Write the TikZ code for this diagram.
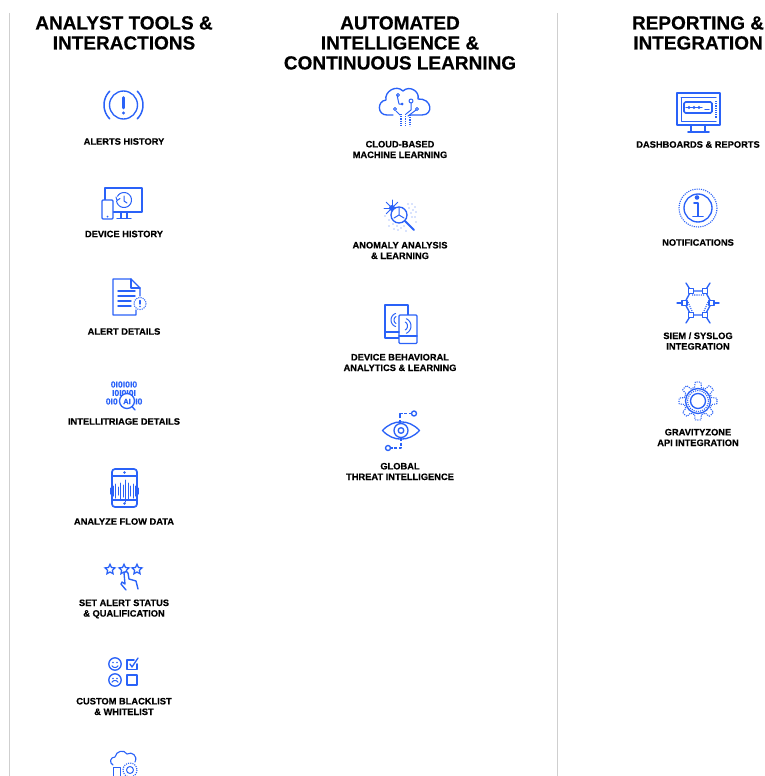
\documentclass[tikz,border=0pt]{standalone}
\usepackage{fontspec}
\setmainfont[BoldFeatures={FakeBold=0.4}]{Liberation Sans}
\usetikzlibrary{shapes.geometric}
\definecolor{iconblue}{HTML}{2A62F8}
\definecolor{rulegrey}{HTML}{CFCFCF}
\tikzset{
  icon/.style={draw=iconblue,line width=1.35pt,line cap=round,line join=round},
  thin icon/.style={draw=iconblue,line width=1pt,line cap=round,line join=round},
  dotted icon/.style={draw=iconblue,line width=1.1pt,dash pattern=on 1.1pt off 1.1pt},
  fill icon/.style={fill=iconblue,draw=none},
  heading/.style={font=\bfseries\fontsize{19}{20}\selectfont,align=center,inner sep=0pt,anchor=north,text=black},
  caption/.style={font=\bfseries\fontsize{9.3}{10.6}\selectfont,align=center,inner sep=0pt,anchor=center,text=black},
  bits/.style={font=\bfseries\fontsize{8.6}{8.6}\selectfont,text=iconblue,inner sep=0pt},
  starmark/.style={star,star points=5,star point ratio=2.1,draw=iconblue,line width=1.25pt,inner sep=0pt,minimum size=10.5pt},
  column rule/.style={draw=rulegrey,line width=0.8pt}
}
\begin{document}
\begin{tikzpicture}[x=1pt,y=-1pt]
\useasboundingbox (0,0) rectangle (765,776);
\clip (0,0) rectangle (765,776);
\fill[white] (0,0) rectangle (765,776);
% column rules
\coordinate (r1a) at (9,13); \coordinate (r1b) at (9,776);
\coordinate (r2a) at (557,13); \coordinate (r2b) at (557,776);
\draw[column rule] (r1a) -- (r1b);
\draw[column rule] (r2a) -- (r2b);
% headings
\node[heading] (h1) at (124,16) {ANALYST TOOLS \&\\INTERACTIONS};
\node[heading] (h2) at (400,16) {AUTOMATED\\INTELLIGENCE \&\\CONTINUOUS LEARNING};
\node[heading] (h3) at (698,16) {REPORTING \&\\INTEGRATION};
% captions
\node[caption] (c1) at (124,141.5) {ALERTS HISTORY};
\node[caption] (c2) at (124,234) {DEVICE HISTORY};
\node[caption] (c3) at (124,331.5) {ALERT DETAILS};
\node[caption] (c4) at (124,421.5) {INTELLITRIAGE DETAILS};
\node[caption] (c5) at (124,521.5) {ANALYZE FLOW DATA};
\node[caption] (c6) at (124,609) {SET ALERT STATUS\\\& QUALIFICATION};
\node[caption] (c7) at (124,706.5) {CUSTOM BLACKLIST\\\& WHITELIST};
\node[caption] (c8) at (400,149.5) {CLOUD-BASED\\MACHINE LEARNING};
\node[caption] (c9) at (400,250.5) {ANOMALY ANALYSIS\\\& LEARNING};
\node[caption] (c10) at (400,362.5) {DEVICE BEHAVIORAL\\ANALYTICS \& LEARNING};
\node[caption] (c11) at (400,471.5) {GLOBAL\\THREAT INTELLIGENCE};
\node[caption] (c12) at (698,144.5) {DASHBOARDS \& REPORTS};
\node[caption] (c13) at (698,242.5) {NOTIFICATIONS};
\node[caption] (c14) at (698,341) {SIEM / SYSLOG\\INTEGRATION};
\node[caption] (c15) at (698,437.5) {GRAVITYZONE\\API INTEGRATION};
% --- alerts history
\begin{scope}[shift={(123.5,105)}]
\draw[icon] (0,0) circle (14);
\draw[icon,line width=1.5pt] plot[domain=-45:45,samples=20] ({19.5*cos(\x)},{19.5*sin(\x)});
\draw[icon,line width=1.5pt] plot[domain=135:225,samples=20] ({19.5*cos(\x)},{19.5*sin(\x)});
\draw[icon,line width=2.6pt] (0,-7.5) -- (0,3);
\fill[iconblue] (0,8) circle (1.7);
\end{scope}
% --- device history
\draw[icon] (105,200) -- (105,188) -- (142,188) -- (142,212) -- (113,212);
\draw[icon,fill=white,rounded corners=1pt] (102,200) rectangle (113,219);
\draw[icon] (121,212) -- (121,218) (127,212) -- (127,218) (117,218.5) -- (131,218.5);
\fill[iconblue] (107.5,216.5) circle (1);
\draw[thin icon] plot[domain=-150:170,samples=24] ({124+7.5*cos(\x)},{200+7.5*sin(\x)});
\draw[thin icon] (124,196) -- (124,201) -- (127,203);
\draw[thin icon] (116,197) -- (117,200.5) -- (120,198.5);
% --- alert details
\draw[icon] (136,310) -- (136,315) -- (113,315) -- (113,279) -- (131,279) -- (140,288) -- (140,296);
\draw[icon] (131,279) -- (131,288) -- (140,288);
\draw[icon] (118,291) -- (135,291) (118,296) -- (135,296) (118,301) -- (131,301) (118,306) -- (131,306);
\draw[dotted icon] (140,303.5) circle (6);
\draw[icon] (140,300.5) -- (140,304);
\fill[iconblue] (140,306.5) circle (0.9);
% --- intellitriage
\node[bits] (b1) at (124,384.5) {0I0I0I0};
\node[bits] (b2) at (124,393) {I0I0I0I};
\node[bits,anchor=east] (b3) at (118,401.5) {0I0};
\node[bits,anchor=west] (b4) at (135,401.5) {I0};
\draw[icon,fill=white] (127,401) circle (7.5);
\draw[icon] (132,406.5) -- (135,410);
\node[bits,font=\bfseries\fontsize{7.5}{8}\selectfont] (b5) at (127,401.5) {AI};
% --- analyze flow
\draw[icon,line width=1.7pt,rounded corners=3pt] (112,469) rectangle (137,507);
\draw[icon] (112,476) -- (137,476) (112,500) -- (137,500);
\fill[iconblue] (124.5,472.5) circle (1.3) (124.5,503.5) circle (1.3);
\foreach \px/\ph in {110.5/3,113/5,115.5/7,118/4,120.5/8,123/6,125.5/11,128/8,130.5/5,133/7,135.5/5,138/3}{
  \draw[thin icon] (\px,491-\ph) -- (\px,491+\ph);
}
% --- set alert status
\node[starmark] (s1) at (110,569.5) {};
\node[starmark] (s2) at (124,569.5) {};
\node[starmark] (s3) at (137,569.5) {};
\draw[icon,fill=white] (126,590) -- (121,584) -- (122,582) -- (125,584) -- (124,573) .. controls (125,570.5) and (127,571) .. (128,573) -- (129,579) -- (136,581) -- (138,589);
% --- custom lists
\draw[icon] (115,664) circle (6.2);
\fill[iconblue] (113,662.5) circle (0.9) (117,662.5) circle (0.9);
\draw[thin icon] plot[domain=30:150,samples=10] ({115+3.5*cos(\x)},{664+3.5*sin(\x)});
\draw[icon] (115,680) circle (6.2);
\fill[iconblue] (113,678.5) circle (0.9) (117,678.5) circle (0.9);
\draw[thin icon] plot[domain=210:330,samples=10] ({115+3.5*cos(\x)},{684+3.5*sin(\x)});
\draw[icon,line width=1.6pt] (137,664) -- (137,669.5) -- (127,669.5) -- (127,660) -- (134,660);
\draw[icon] (130,664) -- (132,667) -- (138,658);
\draw[icon,line width=1.6pt] (127,675) rectangle (137,685);
% --- bottom cloud
\draw[icon,line width=1.1pt] (113,765) .. controls (109,763) and (110,757) .. (115,757) .. controls (116,751) and (124,749) .. (127,754) .. controls (132,751) and (138,756) .. (135,762);
\draw[thin icon] (113,767) rectangle (120,776);
\draw[dotted icon] (130,770) circle (7);
\draw[thin icon] (130,770) circle (3.5);
% --- cloud ML
\draw[icon] (393,115) -- (387,115) .. controls (377,115) and (377,101) .. (386,100) .. controls (384,92) and (396,84) .. (403,91) .. controls (409,85) and (420,91) .. (418,99) .. controls (432,98) and (434,115) .. (422,115) -- (410,115);
\draw[thin icon] (397,95) -- (399,104) -- (402,104);
\draw[thin icon] (398,95) circle (1.5);
\fill[iconblue] (402,104) circle (1.5);
\draw[thin icon] (411,101) circle (2);
\draw[thin icon] (411,103) -- (411,110) -- (406,114);
\draw[thin icon] (395,109) circle (1.5) (417,109) circle (1.5);
\draw[thin icon] (396,111) -- (400,115);
\draw[thin icon] (416,110) -- (408,116);
\draw[dotted icon] (401,114) -- (401,126);
\draw[dotted icon] (405.5,114) -- (405.5,126);
\draw[dotted icon] (410,115) -- (410,126);
% --- anomaly
\foreach \a in {0,45,...,315}{
  \draw[thin icon] (392,208) -- ({392+8*cos(\a)},{208+8*sin(\a)});
}
\fill[iconblue] (392,208) circle (3);
\draw[icon,fill=white] (399,215) circle (8);
\draw[thin icon] (399,208) -- (399,215) -- (404,218) (399,215) -- (394,218);
\draw[icon,line width=1.8pt] (405,221) -- (414,230);
\foreach \dx/\dy in {408/204,412/204,415/207,409/208,413/210,416/212,411/213,415/217,412/217,416/222,389/220,393/224,397/226,385/216,389/226,394/229,401/228,398/230,404/226,406/231}{
  \fill[iconblue!75] (\dx,\dy) circle (0.7);
}
% --- device behavioural
\draw[icon] (399,338) -- (385,338) -- (385,305) -- (408,305) -- (408,315);
\draw[icon,fill=white,rounded corners=1pt] (399,315) rectangle (417,343.5);
\draw[icon] (385,332) -- (399,332) (399,336) -- (417,336);
\draw[thin icon] plot[domain=110:250,samples=12] ({398+7*cos(\x)},{320+7*sin(\x)});
\draw[thin icon] plot[domain=120:240,samples=12] ({398+4*cos(\x)},{320+4*sin(\x)});
\draw[thin icon] plot[domain=-65:65,samples=12] ({403+8*cos(\x)},{326+8*sin(\x)});
\draw[thin icon] plot[domain=-60:60,samples=12] ({403+4.5*cos(\x)},{326+4.5*sin(\x)});
% --- global threat eye
\draw[icon] (382.5,430.5) .. controls (393,419) and (409,419) .. (419.5,430.5) .. controls (409,442) and (393,442) .. (382.5,430.5) -- cycle;
\draw[icon] (401,430.5) circle (7);
\draw[icon] (401,430.5) circle (2.8);
\draw[icon,line cap=butt,dash pattern=on 3pt off 1.6pt] (400,423) -- (400,413.5) -- (411,413.5);
\draw[icon] (414,413.5) circle (2.5);
\draw[icon,line cap=butt,dash pattern=on 3pt off 1.6pt] (401,438) -- (401,448) -- (391,448);
\draw[icon] (388,448) circle (2.5);
% --- dashboards
\draw[icon,line width=2.2pt] (677,93) rectangle (720,125);
\draw[thin icon] (681,97.5) -- (716,97.5);
\draw[thin icon] (681,97.5) -- (681,121) -- (716,121);
\draw[icon,line width=1.7pt,rounded corners=1.5pt] (684,102) rectangle (712,113);
\fill[iconblue] (689,107.5) circle (1.7) (694,107.5) circle (1.7) (699,107.5) circle (1.7);
\draw[icon,line width=1.4pt] (686,107.5) -- (702,107.5) (705,109.5) -- (709,109.5);
\draw[icon,line width=1.9pt] (691,125) -- (691,132) (705,125) -- (705,132) (688,132) -- (709,132);
\draw[dotted icon] (716,101) -- (716,118);
% --- notifications
\draw[icon] (698,208) circle (14);
\draw[dotted icon] (698,208) circle (19);
\fill[iconblue] (697,197.5) circle (2.3);
\draw[icon,line width=1.7pt] (694,203) -- (698,203) -- (698,216);
\draw[icon,line width=1.7pt] (693,216.5) -- (703,216.5);
% --- siem
\begin{scope}[shift={(698,303)}]
\draw[icon] (-7,-12) -- (7,-12) -- (13.5,0) -- (7,12) -- (-7,12) -- (-13.5,0) -- cycle;
\foreach \ax/\ay/\bx/\by in {-7/-12/-12/-20, 7/-12/12/-20, 13.5/0/21/0, 7/12/12/20, -7/12/-12/20, -13.5/0/-21/0}{
  \draw[icon] (\ax,\ay) -- (\bx,\by);
  \draw[icon,fill=white] (\ax-2.5,\ay-2.5) rectangle (\ax+2.5,\ay+2.5);
}
\draw[dotted icon] (-6,-8) -- (6,-8) (10,-1) -- (6,8) (-10,-1) -- (-6,8);
\end{scope}
% --- gravityzone
\begin{scope}[shift={(698,401)}]
\draw[dotted icon] plot[domain=0:360,samples=181,smooth] ({(16.5+2.5*max(-1,min(1,3*cos(8*\x))))*cos(\x)},{(16.5+2.5*max(-1,min(1,3*cos(8*\x))))*sin(\x)});
\draw[icon] (0,0) circle (7.5);
\draw[dotted icon] (0,0) circle (10.5);
\draw[icon] (0,0) circle (12.5);
\end{scope}
\end{tikzpicture}
\end{document}
